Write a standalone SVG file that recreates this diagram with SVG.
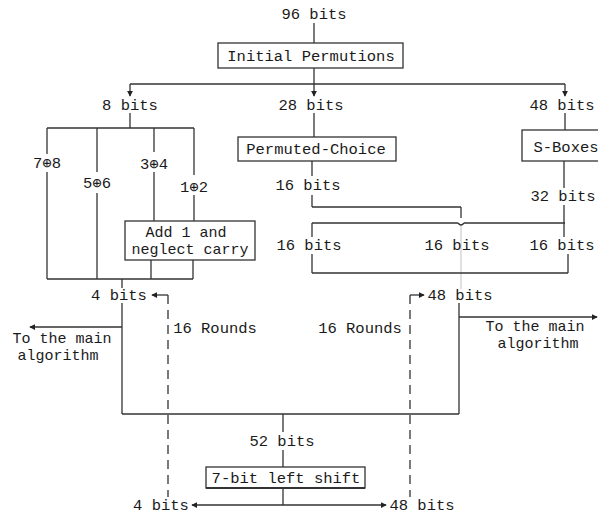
<svg xmlns="http://www.w3.org/2000/svg" width="598" height="515" viewBox="0 0 598 515">
<defs>
<style>
text{font-family:"Liberation Mono","Courier New",monospace;font-size:15.5px;fill:#1a1a1a;text-anchor:middle}
.sm{font-size:15px}
.ln{stroke:#333;stroke-width:1.3;fill:none}
.gr{stroke:#cfcfcf;stroke-width:1.3;fill:none}
.ds{stroke:#333;stroke-width:1.3;fill:none;stroke-dasharray:9,6}
.bx{fill:#fff;stroke:#333;stroke-width:1.3}
</style>
<marker id="ah" viewBox="0 0 8 8" refX="7" refY="4" markerWidth="6" markerHeight="6" orient="auto" markerUnits="userSpaceOnUse">
<path d="M0,0 L8,4 L0,8 z" fill="#222"/>
</marker>
</defs>
<rect width="598" height="515" fill="#fff"/>

<g id="connectors">
<line class="ln" x1="314" y1="23" x2="314" y2="43"/>
<line class="ln" x1="314" y1="68" x2="314" y2="84"/>
<line class="ln" x1="130" y1="84" x2="565" y2="84"/>
<line class="ln" x1="130" y1="84" x2="130" y2="96" marker-end="url(#ah)"/>
<line class="ln" x1="314" y1="84" x2="314" y2="96" marker-end="url(#ah)"/>
<line class="ln" x1="565" y1="84" x2="565" y2="96" marker-end="url(#ah)"/>
<line class="ln" x1="130" y1="113" x2="130" y2="128"/>
<line class="ln" x1="47" y1="128" x2="194" y2="128"/>
<line class="ln" x1="47" y1="128" x2="47" y2="154"/>
<line class="ln" x1="47" y1="172" x2="47" y2="279"/>
<line class="ln" x1="97" y1="128" x2="97" y2="172"/>
<line class="ln" x1="97" y1="193" x2="97" y2="279"/>
<line class="ln" x1="154" y1="128" x2="154" y2="152"/>
<line class="ln" x1="154" y1="172" x2="154" y2="221"/>
<line class="ln" x1="194" y1="128" x2="194" y2="175"/>
<line class="ln" x1="194" y1="195" x2="194" y2="221"/>
<line class="ln" x1="151" y1="260" x2="151" y2="279"/>
<line class="ln" x1="193" y1="260" x2="193" y2="279"/>
<line class="ln" x1="47" y1="279" x2="193" y2="279"/>
<line class="ln" x1="122" y1="279" x2="122" y2="288"/>
<line class="ln" x1="122" y1="303" x2="122" y2="414"/>
<line class="ln" x1="122" y1="327" x2="30" y2="327" marker-end="url(#ah)"/>
<line class="ln" x1="314" y1="113" x2="314" y2="137"/>
<line class="ln" x1="312" y1="161" x2="312" y2="176"/>
<line class="ln" x1="312" y1="195" x2="312" y2="207"/>
<line class="ln" x1="312" y1="207" x2="461" y2="207"/>
<line class="ln" x1="461" y1="207" x2="461" y2="218"/>
<path class="ln" d="M458,223 Q461,227 464,223"/>
<line class="gr" x1="461" y1="226" x2="461" y2="289"/>
<line class="ln" x1="312" y1="223" x2="458" y2="223"/>
<line class="ln" x1="464" y1="223" x2="565" y2="223"/>
<line class="ln" x1="312" y1="223" x2="312" y2="237"/>
<line class="ln" x1="312" y1="254" x2="312" y2="273"/>
<line class="ln" x1="312" y1="273" x2="568" y2="273"/>
<line class="ln" x1="568" y1="254" x2="568" y2="273"/>
<line class="ln" x1="565" y1="113" x2="565" y2="130"/>
<line class="ln" x1="564" y1="161" x2="564" y2="188"/>
<line class="ln" x1="564" y1="205" x2="564" y2="237"/>
<line class="ln" x1="459" y1="303" x2="459" y2="414"/>
<line class="ln" x1="459" y1="317" x2="597" y2="317" marker-end="url(#ah)"/>
<line class="ln" x1="122" y1="414" x2="459" y2="414"/>
<line class="ln" x1="283" y1="414" x2="283" y2="432"/>
<line class="ln" x1="283" y1="450" x2="283" y2="467"/>
<line class="ln" x1="283" y1="488" x2="283" y2="505"/>
<line class="ln" x1="283" y1="505" x2="192" y2="505" marker-end="url(#ah)"/>
<line class="ln" x1="283" y1="505" x2="386" y2="505" marker-end="url(#ah)"/>
<line class="ln" x1="163" y1="295" x2="152" y2="295" marker-end="url(#ah)"/>
<line class="ln" x1="168" y1="295" x2="163" y2="295"/>
<line class="ds" x1="168" y1="295" x2="168" y2="497"/>
<line class="ln" x1="410" y1="295" x2="413" y2="295"/>
<line class="ln" x1="413" y1="295" x2="424" y2="295" marker-end="url(#ah)"/>
<line class="ds" x1="410" y1="295" x2="410" y2="497"/>
</g>

<g id="n-top"><text x="314" y="19">96 bits</text></g>
<g id="n-initial"><rect class="bx" x="218" y="43" width="185" height="25"/><text x="311" y="61">Initial Permutions</text></g>
<g id="n-8bits"><text x="130" y="110">8 bits</text></g>
<g id="n-28bits"><text x="311" y="110">28 bits</text></g>
<g id="n-48bits-top"><text x="562" y="110">48 bits</text></g>
<g id="n-78"><text x="47" y="168">7⊕8</text></g>
<g id="n-56"><text x="97" y="188">5⊕6</text></g>
<g id="n-34"><text x="154" y="169">3⊕4</text></g>
<g id="n-12"><text x="194" y="192">1⊕2</text></g>
<g id="n-add"><rect class="bx" x="125" y="221" width="130" height="39"/><text class="sm" x="186" y="237">Add 1 and</text><text class="sm" x="190" y="254">neglect carry</text></g>
<g id="n-4bits"><text x="119" y="300">4 bits</text></g>
<g id="n-main-left"><text class="sm" x="62" y="343">To the main</text><text class="sm" x="58" y="360">algorithm</text></g>
<g id="n-rounds-left"><text x="215" y="333">16 Rounds</text></g>
<g id="n-permuted"><rect class="bx" x="238" y="137" width="158" height="24"/><text x="316" y="154">Permuted-Choice</text></g>
<g id="n-16a"><text x="308" y="190">16 bits</text></g>
<g id="n-sboxes"><rect class="bx" x="522" y="130" width="80" height="31"/><text x="566" y="152">S-Boxes</text></g>
<g id="n-32"><text x="563" y="201">32 bits</text></g>
<g id="n-16l"><text x="309" y="250">16 bits</text></g>
<g id="n-16m"><text x="457" y="250">16 bits</text></g>
<g id="n-16r"><text x="562" y="250">16 bits</text></g>
<g id="n-48bits"><text x="460" y="300">48 bits</text></g>
<g id="n-main-right"><text class="sm" x="535" y="331">To the main</text><text class="sm" x="538" y="348">algorithm</text></g>
<g id="n-rounds-right"><text x="360" y="333">16 Rounds</text></g>
<g id="n-52"><text x="282" y="446">52 bits</text></g>
<g id="n-shift"><rect class="bx" x="206" y="467" width="159" height="21"/><line x1="206" y1="488" x2="365" y2="488" stroke="#333" stroke-width="2"/><text x="286" y="483">7-bit left shift</text></g>
<g id="n-4bits-b"><text x="161" y="510">4 bits</text></g>
<g id="n-48bits-b"><text x="422" y="510">48 bits</text></g>
</svg>
